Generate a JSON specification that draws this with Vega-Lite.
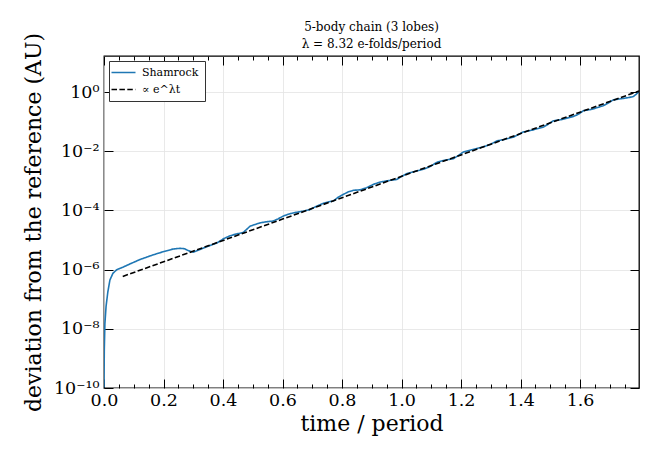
{
  "$schema": "https://vega.github.io/schema/vega-lite/v6.json",
  "autosize": {"type": "none"},
  "padding": {"left": 104, "top": 56, "right": 21, "bottom": 71},
  "width": 535,
  "height": 332,
  "background": "white",
  "title": {
    "text": ["5-body chain (3 lobes)", "λ = 8.32 e-folds/period"],
    "font": "DejaVu Serif",
    "fontSize": 12,
    "fontWeight": "normal",
    "color": "black",
    "anchor": "middle",
    "lineHeight": 17,
    "offset": -19
  },
  "data": {
    "values": [
      {"t": 0, "dev": 1.05e-10, "series": "Shamrock"},
      {"t": 0.001, "dev": 2e-9, "series": "Shamrock"},
      {"t": 0.003, "dev": 1.5e-8, "series": "Shamrock"},
      {"t": 0.007, "dev": 5.8e-8, "series": "Shamrock"},
      {"t": 0.013, "dev": 1.8e-7, "series": "Shamrock"},
      {"t": 0.02, "dev": 4.5e-7, "series": "Shamrock"},
      {"t": 0.03, "dev": 7.5e-7, "series": "Shamrock"},
      {"t": 0.043, "dev": 1.0e-6, "series": "Shamrock"},
      {"t": 0.065, "dev": 1.23e-6, "series": "Shamrock"},
      {"t": 0.09, "dev": 1.6e-6, "series": "Shamrock"},
      {"t": 0.121, "dev": 2.2e-6, "series": "Shamrock"},
      {"t": 0.15, "dev": 2.8e-6, "series": "Shamrock"},
      {"t": 0.177, "dev": 3.45e-6, "series": "Shamrock"},
      {"t": 0.205, "dev": 4.2e-6, "series": "Shamrock"},
      {"t": 0.233, "dev": 5.0e-6, "series": "Shamrock"},
      {"t": 0.255, "dev": 5.25e-6, "series": "Shamrock"},
      {"t": 0.27, "dev": 5.1e-6, "series": "Shamrock"},
      {"t": 0.283, "dev": 4.4e-6, "series": "Shamrock"},
      {"t": 0.3, "dev": 3.9e-6, "series": "Shamrock"},
      {"t": 0.323, "dev": 4.8e-6, "series": "Shamrock"},
      {"t": 0.35, "dev": 6.2e-6, "series": "Shamrock"},
      {"t": 0.379, "dev": 7.9e-6, "series": "Shamrock"},
      {"t": 0.401, "dev": 1.1e-5, "series": "Shamrock"},
      {"t": 0.424, "dev": 1.4e-5, "series": "Shamrock"},
      {"t": 0.445, "dev": 1.6e-5, "series": "Shamrock"},
      {"t": 0.468, "dev": 1.8e-5, "series": "Shamrock"},
      {"t": 0.491, "dev": 2.95e-5, "series": "Shamrock"},
      {"t": 0.524, "dev": 3.8e-5, "series": "Shamrock"},
      {"t": 0.55, "dev": 4.2e-5, "series": "Shamrock"},
      {"t": 0.569, "dev": 4.4e-5, "series": "Shamrock"},
      {"t": 0.585, "dev": 5.2e-5, "series": "Shamrock"},
      {"t": 0.603, "dev": 6.5e-5, "series": "Shamrock"},
      {"t": 0.625, "dev": 7.8e-5, "series": "Shamrock"},
      {"t": 0.648, "dev": 8.7e-5, "series": "Shamrock"},
      {"t": 0.67, "dev": 9.5e-5, "series": "Shamrock"},
      {"t": 0.692, "dev": 1.07e-4, "series": "Shamrock"},
      {"t": 0.715, "dev": 1.4e-4, "series": "Shamrock"},
      {"t": 0.737, "dev": 1.74e-4, "series": "Shamrock"},
      {"t": 0.755, "dev": 1.95e-4, "series": "Shamrock"},
      {"t": 0.771, "dev": 2.1e-4, "series": "Shamrock"},
      {"t": 0.787, "dev": 2.8e-4, "series": "Shamrock"},
      {"t": 0.804, "dev": 3.47e-4, "series": "Shamrock"},
      {"t": 0.82, "dev": 4.2e-4, "series": "Shamrock"},
      {"t": 0.838, "dev": 4.8e-4, "series": "Shamrock"},
      {"t": 0.861, "dev": 5.0e-4, "series": "Shamrock"},
      {"t": 0.883, "dev": 5.9e-4, "series": "Shamrock"},
      {"t": 0.905, "dev": 7.6e-4, "series": "Shamrock"},
      {"t": 0.928, "dev": 9.1e-4, "series": "Shamrock"},
      {"t": 0.95, "dev": 1.0e-3, "series": "Shamrock"},
      {"t": 0.984, "dev": 1.12e-3, "series": "Shamrock"},
      {"t": 1.0, "dev": 1.41e-3, "series": "Shamrock"},
      {"t": 1.017, "dev": 1.74e-3, "series": "Shamrock"},
      {"t": 1.045, "dev": 2.1e-3, "series": "Shamrock"},
      {"t": 1.073, "dev": 2.45e-3, "series": "Shamrock"},
      {"t": 1.095, "dev": 3.0e-3, "series": "Shamrock"},
      {"t": 1.118, "dev": 4.2e-3, "series": "Shamrock"},
      {"t": 1.14, "dev": 4.9e-3, "series": "Shamrock"},
      {"t": 1.174, "dev": 5.6e-3, "series": "Shamrock"},
      {"t": 1.19, "dev": 7.1e-3, "series": "Shamrock"},
      {"t": 1.208, "dev": 9.5e-3, "series": "Shamrock"},
      {"t": 1.235, "dev": 1.12e-2, "series": "Shamrock"},
      {"t": 1.275, "dev": 1.41e-2, "series": "Shamrock"},
      {"t": 1.3, "dev": 1.74e-2, "series": "Shamrock"},
      {"t": 1.32, "dev": 2.24e-2, "series": "Shamrock"},
      {"t": 1.345, "dev": 2.5e-2, "series": "Shamrock"},
      {"t": 1.376, "dev": 3.0e-2, "series": "Shamrock"},
      {"t": 1.39, "dev": 3.55e-2, "series": "Shamrock"},
      {"t": 1.409, "dev": 4.5e-2, "series": "Shamrock"},
      {"t": 1.44, "dev": 5.2e-2, "series": "Shamrock"},
      {"t": 1.477, "dev": 6.6e-2, "series": "Shamrock"},
      {"t": 1.49, "dev": 7.9e-2, "series": "Shamrock"},
      {"t": 1.51, "dev": 0.107, "series": "Shamrock"},
      {"t": 1.535, "dev": 0.117, "series": "Shamrock"},
      {"t": 1.578, "dev": 0.151, "series": "Shamrock"},
      {"t": 1.595, "dev": 0.18, "series": "Shamrock"},
      {"t": 1.611, "dev": 0.234, "series": "Shamrock"},
      {"t": 1.64, "dev": 0.263, "series": "Shamrock"},
      {"t": 1.678, "dev": 0.347, "series": "Shamrock"},
      {"t": 1.695, "dev": 0.43, "series": "Shamrock"},
      {"t": 1.712, "dev": 0.55, "series": "Shamrock"},
      {"t": 1.74, "dev": 0.6, "series": "Shamrock"},
      {"t": 1.765, "dev": 0.66, "series": "Shamrock"},
      {"t": 1.779, "dev": 0.71, "series": "Shamrock"},
      {"t": 1.796, "dev": 0.98, "series": "Shamrock"},
      {"t": 0.063, "dev": 5.9e-7, "series": "∝ e^λt"},
      {"t": 0.6, "dev": 5.1e-5, "series": "∝ e^λt"},
      {"t": 1.2, "dev": 7.55e-3, "series": "∝ e^λt"},
      {"t": 1.798, "dev": 1.09, "series": "∝ e^λt"}
    ]
  },
  "layer": [
    {
      "mark": {"type": "line", "clip": true, "strokeWidth": 1.6},
      "encoding": {
        "x": {
          "field": "t",
          "type": "quantitative",
          "scale": {"domain": [0, 1.798], "nice": false, "zero": false},
          "axis": {
            "orient": "bottom",
            "values": [0, 0.2, 0.4, 0.6, 0.8, 1.0, 1.2, 1.4, 1.6],
            "format": ".1f",
            "title": "time / period",
            "tickSize": -9,
            "labelPadding": 12,
            "grid": true,
            "titlePadding": 5
          }
        },
        "y": {
          "field": "dev",
          "type": "quantitative",
          "scale": {"type": "log", "domain": [1e-10, 16.6], "nice": false},
          "axis": {
            "orient": "left",
            "values": [1e-10, 1e-8, 1e-6, 1e-4, 1e-2, 1],
            "labelExpr": "datum.value > 0.5 ? '10⁰' : datum.value > 5e-3 ? '10⁻²' : datum.value > 5e-5 ? '10⁻⁴' : datum.value > 5e-7 ? '10⁻⁶' : datum.value > 5e-9 ? '10⁻⁸' : '10⁻¹⁰'",
            "title": "deviation from the reference (AU)",
            "tickSize": -9,
            "labelPadding": 14,
            "grid": true,
            "titlePadding": 8
          }
        },
        "color": {
          "field": "series",
          "type": "nominal",
          "scale": {"domain": ["Shamrock", "∝ e^λt"], "range": ["#1f77b4", "black"]},
          "legend": {"title": null, "labelFont": "DejaVu Serif"}
        },
        "strokeDash": {
          "field": "series",
          "type": "nominal",
          "scale": {"domain": ["Shamrock", "∝ e^λt"], "range": [[1, 0], [5.5, 2.4]]},
          "legend": {"title": null, "labelFont": "DejaVu Serif"}
        }
      }
    },
    {
      "mark": {"type": "line", "opacity": 0},
      "encoding": {
        "x": {
          "field": "t",
          "type": "quantitative",
          "axis": {
            "orient": "bottom",
            "values": [0.05, 0.1, 0.15, 0.25, 0.3, 0.35, 0.45, 0.5, 0.55, 0.65, 0.7, 0.75, 0.85, 0.9, 0.95, 1.05, 1.1, 1.15, 1.25, 1.3, 1.35, 1.45, 1.5, 1.55, 1.65, 1.7, 1.75],
            "labels": false,
            "title": null,
            "tickSize": -4,
            "grid": false
          }
        },
        "y": {
          "field": "dev",
          "type": "quantitative",
          "axis": {
            "orient": "right",
            "values": [1e-10, 1e-8, 1e-6, 1e-4, 1e-2, 1],
            "labels": false,
            "title": null,
            "tickSize": -9,
            "grid": false
          }
        }
      }
    },
    {
      "mark": {"type": "line", "opacity": 0},
      "encoding": {
        "x": {
          "field": "t",
          "type": "quantitative",
          "axis": {
            "orient": "top",
            "values": [0, 0.2, 0.4, 0.6, 0.8, 1.0, 1.2, 1.4, 1.6],
            "labels": false,
            "title": null,
            "tickSize": -9,
            "grid": false
          }
        },
        "y": {"field": "dev", "type": "quantitative", "axis": null}
      }
    },
    {
      "mark": {"type": "line", "opacity": 0},
      "encoding": {
        "x": {
          "field": "t",
          "type": "quantitative",
          "axis": {
            "orient": "top",
            "values": [0.05, 0.1, 0.15, 0.25, 0.3, 0.35, 0.45, 0.5, 0.55, 0.65, 0.7, 0.75, 0.85, 0.9, 0.95, 1.05, 1.1, 1.15, 1.25, 1.3, 1.35, 1.45, 1.5, 1.55, 1.65, 1.7, 1.75],
            "labels": false,
            "title": null,
            "tickSize": -4,
            "grid": false
          }
        },
        "y": {"field": "dev", "type": "quantitative", "axis": null}
      }
    }
  ],
  "resolve": {"axis": {"x": "independent", "y": "independent"}},
  "config": {
    "view": {"stroke": "black", "strokeWidth": 1.3},
    "title": {"font": "DejaVu Serif", "fontWeight": "normal"},
    "axis": {
      "domain": false,
      "labelFont": "DejaVu Serif",
      "labelFontSize": 17.5,
      "labelColor": "black",
      "titleFont": "DejaVu Serif",
      "titleFontSize": 22,
      "titleFontWeight": "normal",
      "titleColor": "black",
      "tickColor": "black",
      "tickWidth": 1,
      "gridColor": "#e3e3e3",
      "gridWidth": 0.8,
      "labelFlush": false,
      "labelOverlap": false
    },
    "legend": {
      "orient": "none",
      "legendX": 5,
      "legendY": 5,
      "direction": "vertical",
      "strokeColor": "#333333",
      "fillColor": "white",
      "padding": 6,
      "cornerRadius": 0,
      "symbolType": "M-3,0H3",
      "symbolSize": 64,
      "symbolStrokeWidth": 1.6,
      "symbolOffset": 3,
      "labelFont": "DejaVu Serif",
      "labelFontSize": 11,
      "labelColor": "black",
      "labelOffset": 13,
      "rowPadding": 5
    }
  }
}
